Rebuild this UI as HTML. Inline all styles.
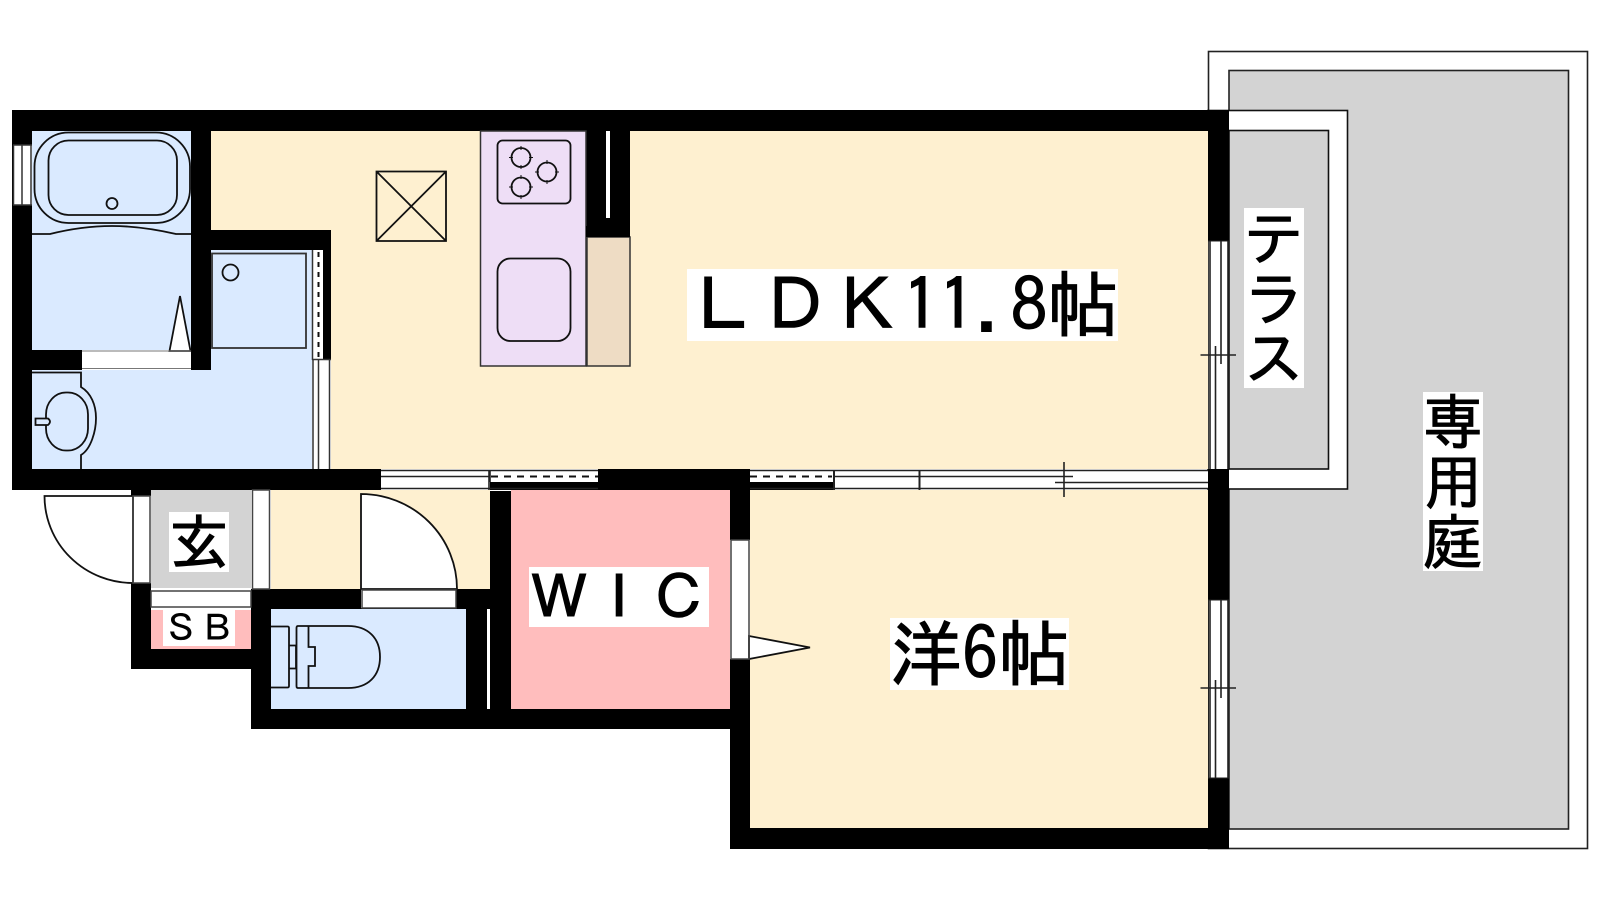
<!DOCTYPE html>
<html><head><meta charset="utf-8"><style>
html,body{margin:0;padding:0;background:#fff}
svg{display:block}
text{font-family:"IPAGothic","Liberation Sans","Noto Sans CJK JP",sans-serif;fill:#000;stroke:#000;stroke-width:1}
</style></head><body>
<svg width="1600" height="900" viewBox="0 0 1600 900" xmlns="http://www.w3.org/2000/svg">
<rect width="1600" height="900" fill="#fff"/>
<!-- garden -->
<rect x="1208.5" y="51.5" width="379" height="797" fill="#fff" stroke="#222" stroke-width="1.6"/>
<rect x="1229" y="70.5" width="339.5" height="758.5" fill="#d3d3d3" stroke="#222" stroke-width="1.6"/>
<rect x="1208" y="110.5" width="139.5" height="378.5" fill="#fff" stroke="#111" stroke-width="1.6"/>
<rect x="1229" y="130.5" width="99.5" height="338.5" fill="#d3d3d3" stroke="#111" stroke-width="1.6"/>
<!-- floors -->
<rect x="211" y="131" width="997" height="338" fill="#fef0d0"/>
<rect x="750" y="490" width="458" height="338" fill="#fef0d0"/>
<rect x="271" y="490" width="219" height="99" fill="#fef0d0"/>
<rect x="32" y="131" width="159" height="219" fill="#daeaff"/>
<rect x="32" y="370" width="280" height="99" fill="#daeaff"/>
<rect x="211" y="250" width="101" height="120" fill="#daeaff"/>
<rect x="271" y="609" width="195" height="100" fill="#daeaff"/>
<rect x="511" y="490" width="219" height="219" fill="#ffbdbd"/>
<rect x="151" y="490" width="100" height="98" fill="#d3d3d3"/>
<rect x="151" y="610" width="100" height="39" fill="#ffbdbd"/>
<!-- walls -->
<g fill="#000">
<rect x="12" y="110" width="1217" height="21"/>
<rect x="12" y="110" width="20" height="380"/>
<rect x="191" y="110" width="20" height="260"/>
<rect x="211" y="230" width="120" height="20"/>
<rect x="323" y="230" width="8" height="130"/>
<rect x="32" y="350" width="50" height="20"/>
<rect x="12" y="469" width="369" height="21"/>
<rect x="586" y="131" width="44" height="106"/>
<rect x="598" y="469" width="152" height="21"/>
<rect x="490" y="491" width="21" height="238"/>
<rect x="730" y="469" width="20" height="71"/>
<rect x="730" y="659" width="20" height="190"/>
<rect x="730" y="828" width="499" height="21"/>
<rect x="251" y="709" width="479" height="20"/>
<rect x="251" y="589" width="20" height="140"/>
<rect x="251" y="589" width="239" height="20"/>
<rect x="466" y="589" width="21" height="120"/>
<rect x="131" y="469" width="20" height="27"/>
<rect x="131" y="583" width="20" height="86"/>
<rect x="131" y="649" width="120" height="20"/>
<rect x="1208" y="110" width="21" height="131"/>
<rect x="1208" y="469" width="21" height="131"/>
<rect x="1208" y="778" width="21" height="71"/>
<rect x="490" y="482" width="108" height="8"/>
<rect x="750" y="482" width="84" height="8"/>
</g>
<!-- white fills -->
<g fill="#fff">
<rect x="606" y="131" width="4" height="87"/>
<rect x="487" y="609" width="3" height="100"/>
<rect x="13" y="145" width="19" height="60"/>
<rect x="82" y="351" width="109" height="18"/>
<rect x="312" y="250" width="11" height="110"/>
<rect x="312" y="360" width="19" height="109"/>
<rect x="381" y="470" width="109" height="20"/>
<rect x="490" y="470" width="108" height="12"/>
<rect x="750" y="470" width="84" height="12"/>
<rect x="834" y="470" width="374" height="19"/>
<rect x="1209" y="241" width="19" height="228"/>
<rect x="1209" y="600" width="19" height="178"/>
<rect x="133" y="496" width="17" height="87"/>
<rect x="252" y="490" width="18" height="99"/>
<rect x="151" y="591" width="100" height="16"/>
<rect x="361" y="590" width="95" height="18"/>
<rect x="731" y="540" width="18" height="119"/>
</g>
<g fill="none" stroke="#111" stroke-width="1.8">
<!-- bath window -->
<path d="M13.5 145V205M22 145V205M31 145V205M13 145H32M13 205H32" stroke="#333" stroke-width="1.5"/>
<!-- tub -->
<rect x="34.5" y="132.5" width="155.5" height="90.5" rx="34" ry="34"/>
<rect x="48.5" y="140.5" width="128.5" height="74.5" rx="20" ry="20"/>
<circle cx="112" cy="203.5" r="5.5"/>
<path d="M32 234H50C70 229 90 226 112 226C134 226 154 229 176 234H191"/>
<!-- bath door triangle -->
<path d="M169.5 351L180 296L190.5 351Z" fill="#fff"/>
<path d="M82 351H191M82 368.5H191" stroke="#777" stroke-width="1"/>
<!-- washer -->
<rect x="212" y="253.5" width="94" height="94.5" stroke="#333"/>
<circle cx="230.5" cy="272.5" r="8"/>
<!-- wash door -->
<path d="M312.5 250V360M312 359.5H331M313 360V469M318.5 360V469M329.5 360V469" stroke="#333" stroke-width="1.5"/>
<path d="M318.5 252V359" stroke="#111" stroke-width="2" stroke-dasharray="5 5"/>
<!-- vanity -->
<path d="M32 372.5H81V387C91 393 96 405 96 418C96 431 91 449 81 455V469"/>
<rect x="46" y="392.5" width="42" height="58" rx="20" ry="22"/>
<path d="M35.5 418.5H48Q52 421.5 48 425H35.5Z" fill="#daeaff"/>
<!-- kitchen -->
<rect x="480.5" y="131" width="105.5" height="235" fill="#eedef6" stroke="#333" stroke-width="1.5"/>
<rect x="587" y="237" width="43" height="129" fill="#eedcc4" stroke="#333" stroke-width="1.5"/>
<rect x="586" y="226" width="44" height="11" fill="#000" stroke="none"/>
<rect x="497.5" y="140.5" width="73" height="63" rx="5"/>
<rect x="497.5" y="258.5" width="73" height="82.5" rx="13"/>
<circle cx="521" cy="157.5" r="9.5"/>
<circle cx="547" cy="172" r="9.5"/>
<circle cx="521" cy="187" r="9.5"/>
<path d="M521 146V150M521 165V169M509 157.5H513M529 157.5H533M547 160V164M547 180V184M535 172H539M555 172H559M521 175V179M521 195V199M509 187H513M529 187H533" stroke-width="1"/>
<!-- pipe box -->
<path d="M376.5 171.5H446V241H376.5ZM376.5 171.5L446 241M446 171.5L376.5 241"/>
<!-- entry door -->
<path d="M133 496H44.5A88.5 87 0 0 0 133 583Z" fill="#fff"/>
<rect x="133" y="496" width="17" height="87" stroke="#444" stroke-width="1.5"/>
<rect x="252.5" y="490" width="17" height="99" stroke="#444" stroke-width="1.5"/>
<rect x="151" y="591" width="100" height="16" stroke="#444" stroke-width="1.5"/>
<!-- toilet door -->
<path d="M361 589V494A96 95 0 0 1 457 589Z" fill="#fff"/>
<rect x="362" y="590" width="94" height="18" stroke="#444" stroke-width="1.5"/>
<!-- toilet -->
<path d="M271 626.5H287.5Q289 626.5 289 628V686Q289 687.5 287.5 687.5H271"/>
<path d="M289 645.5H296M289 668.5H296M296 645.5V668.5" />
<path d="M298 626H348C368 626 380 638 380 657C380 676 368 688 348 688H298Q296.5 688 296.5 686V628Q296.5 626 298 626Z"/>
<path d="M308.5 626V647H315V666H308.5V688"/>
<!-- flag -->
<path d="M749 636L810 647.5L749 659Z" fill="#fff"/>
<rect x="731" y="540" width="18" height="119" stroke="#444" stroke-width="1.5"/>
<!-- south windows -->
<g stroke="#222" stroke-width="1.6">
<path d="M381 470.5H598M381 476.5H490M381 488.5H598M489 470V490M490 470V482"/>
<path d="M750 470.5H1208M750 488.5H1208"/>
<path d="M834 470V490M919.5 470V490" stroke-width="2"/>
<path d="M834 476.5H1073M1055 482.5H1208"/>
<path d="M1064 462V497" stroke-width="1.6"/>
</g>
<path d="M491 476.5H598M750 476.5H832" stroke-width="2" stroke-dasharray="7 6" stroke="#111"/>
<!-- east windows -->
<g stroke="#222" stroke-width="1.6">
<path d="M1210 241V469M1228 241V469M1221 241V364M1215.5 346V469M1200.5 355H1236"/>
<path d="M1210 600V778M1228 600V778M1221 600V698M1215.5 680V778M1200.5 688H1236"/>
<path d="M1208 241H1229M1208 600H1229M1208 778H1229" stroke-width="1"/>
</g>
</g>
<!-- labels -->
<rect x="687" y="269" width="431" height="72" fill="#fff"/>
<text x="687" y="331" font-size="72">ＬＤＫ11.8帖</text>
<rect x="890" y="618" width="179" height="72" fill="#fff"/>
<text x="890" y="680" font-size="72">洋6帖</text>
<rect x="529" y="567" width="180" height="60" fill="#fff"/>
<text x="529" y="619" font-size="60">ＷＩＣ</text>
<rect x="169" y="512" width="60" height="60" fill="#fff"/>
<text x="169" y="564" font-size="60">玄</text>
<rect x="163" y="610" width="72" height="36" fill="#fff"/>
<text x="163" y="641" font-size="36" style="stroke-width:.5">ＳＢ</text>
<rect x="1244" y="208" width="60" height="180" fill="#fff"/>
<text x="1244" y="260" font-size="60">テ</text>
<text x="1244" y="320" font-size="60">ラ</text>
<text x="1244" y="380" font-size="60">ス</text>
<rect x="1423" y="392" width="60" height="179" fill="#fff"/>
<text x="1423" y="444" font-size="60">専</text>
<text x="1423" y="504" font-size="60">用</text>
<text x="1423" y="564" font-size="60">庭</text>
</svg>
</body></html>
